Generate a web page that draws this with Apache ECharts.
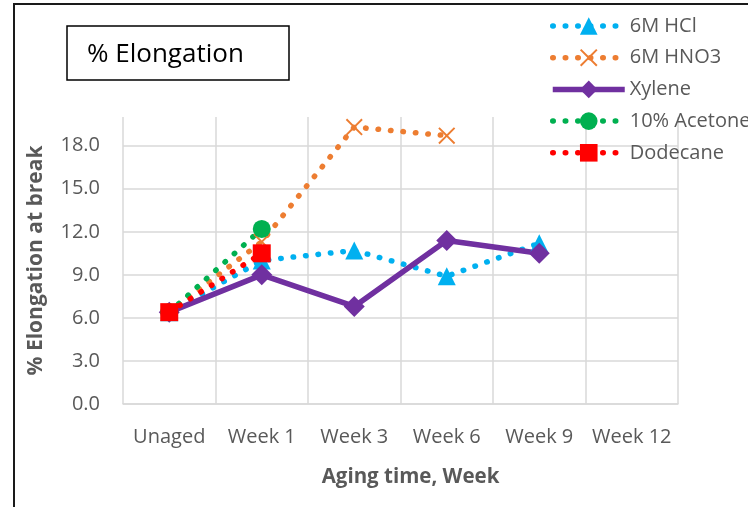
<!DOCTYPE html>
<html>
<head>
<meta charset="utf-8">
<script src="https://cdn.jsdelivr.net/npm/echarts@6/dist/echarts.min.js"></script>
<style>
  html, body { margin: 0; padding: 0; background: #fff; }
  #chart { width: 748px; height: 507px; }
</style>
</head>
<body>
<div id="chart"></div>
<script>
// Aging time categories and measured % elongation at break per solvent
const categories = ['Unaged', 'Week 1', 'Week 3', 'Week 6', 'Week 9', 'Week 12'];
const hcl      = [6.4, 10.0, 10.7, 8.9, 11.2, null];
const hno3     = [6.4, 11.3, 19.3, 18.7, null, null];
const xylene   = [6.4, 9.0, 6.8, 11.4, 10.5, null];
const acetone  = [6.4, 12.2, null, null, null, null];
const dodecane = [6.4, 10.5, null, null, null, null];
const yTicks = { min: 0, max: 20, step: 3 };

const FONT = 'Open Sans';
const GREY = '#595959';
const GRID = '#d9d9d9';

// "x" cross marker as a filled polygon
const crossPath = 'path://M0,8L8,0L50,42L92,0L100,8L58,50L100,92L92,100L50,58L8,100L0,92L42,50Z';

function dotted(color) {
  return { color: color, width: 5.5, type: [0.5, 12], cap: 'round' };
}
const solid = { color: '#7030A0', width: 5.5, type: 'solid', cap: 'butt' };

const chart = echarts.init(document.getElementById('chart'), null, { renderer: 'canvas' });

chart.setOption({
  animation: false,
  backgroundColor: '#fff',
  textStyle: { fontFamily: FONT },
  title: {
    text: '% Elongation',
    left: 67,
    top: 26,
    borderColor: '#000',
    borderWidth: 1.5,
    padding: [14, 45, 10, 20],
    textStyle: { fontFamily: FONT, fontSize: 26, fontWeight: 'normal', color: '#000', lineHeight: 30 }
  },
  graphic: [{
    type: 'rect',
    silent: true,
    shape: { x: 14, y: 4, width: 900, height: 700 },
    style: { fill: 'none', stroke: '#1a1a1a', lineWidth: 2 }
  }],
  legend: {
    orient: 'vertical',
    left: 550,
    top: 15,
    padding: 0,
    itemWidth: 72,
    itemHeight: 22,
    itemGap: 9.7,
    textStyle: { fontFamily: FONT, fontSize: 20, color: GREY, lineHeight: 22 },
    data: [
      { name: '6M HCl', lineStyle: dotted('#00B0F0') },
      { name: '6M HNO3', lineStyle: dotted('#ED7D31') },
      { name: 'Xylene', lineStyle: solid },
      { name: '10% Acetone', lineStyle: dotted('#00B050') },
      { name: 'Dodecane', lineStyle: dotted('#FF0000') }
    ]
  },
  grid: { left: 123, right: 70, top: 117, bottom: 103 },
  xAxis: {
    type: 'category',
    data: categories,
    boundaryGap: true,
    name: 'Aging time, Week',
    nameLocation: 'middle',
    nameGap: 63,
    nameTextStyle: { fontFamily: FONT, fontSize: 20.5, fontWeight: 'bold', color: GREY, padding: [0, 0, 0, 20] },
    axisLine: { show: true, lineStyle: { color: GRID, width: 1.5 } },
    axisTick: { show: false },
    axisLabel: { fontFamily: FONT, fontSize: 20, color: GREY, margin: 23, interval: 0 },
    splitLine: { show: true, lineStyle: { color: GRID, width: 1.5 } }
  },
  yAxis: {
    type: 'value',
    min: yTicks.min,
    max: yTicks.max,
    interval: yTicks.step,
    name: '% Elongation at break',
    nameLocation: 'middle',
    nameRotate: 90,
    nameGap: 76,
    nameTextStyle: { fontFamily: FONT, fontSize: 21, fontWeight: 'bold', color: GREY },
    axisLine: { show: false },
    axisTick: { show: false },
    axisLabel: {
      fontFamily: FONT, fontSize: 20, color: GREY, margin: 23,
      showMaxLabel: false,
      formatter: function (v) { return v.toFixed(1); }
    },
    splitLine: { show: true, showMaxLine: false, lineStyle: { color: GRID, width: 1.5 } }
  },
  series: [
    {
      name: '6M HCl', type: 'line', data: hcl,
      symbol: 'triangle', symbolSize: 18,
      itemStyle: { color: '#00B0F0' },
      lineStyle: dotted('#00B0F0')
    },
    {
      name: '6M HNO3', type: 'line', data: hno3,
      symbol: crossPath, symbolSize: 17,
      itemStyle: { color: '#ED7D31' },
      lineStyle: dotted('#ED7D31')
    },
    {
      name: 'Xylene', type: 'line', data: xylene,
      symbol: 'diamond', symbolSize: 21,
      itemStyle: { color: '#7030A0' },
      lineStyle: solid
    },
    {
      name: '10% Acetone', type: 'line', data: acetone,
      symbol: 'circle', symbolSize: 18,
      itemStyle: { color: '#00B050' },
      lineStyle: dotted('#00B050')
    },
    {
      name: 'Dodecane', type: 'line', data: dodecane,
      symbol: 'rect', symbolSize: 18,
      itemStyle: { color: '#FF0000' },
      lineStyle: dotted('#FF0000')
    }
  ]
});
</script>
</body>
</html>
